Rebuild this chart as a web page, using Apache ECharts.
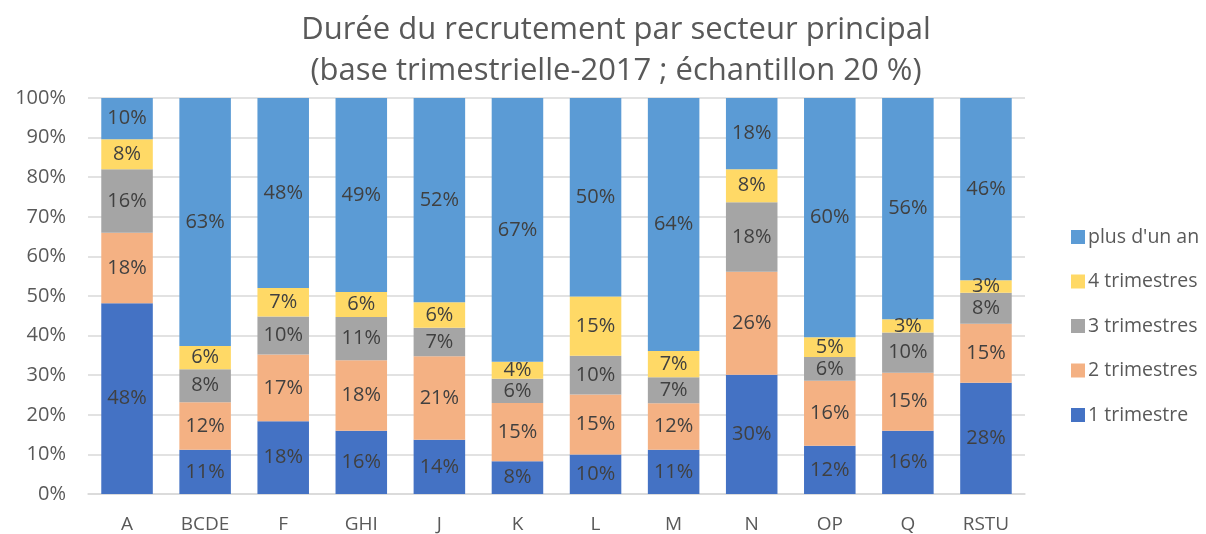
<!DOCTYPE html>
<html>
<head>
<meta charset="utf-8">
<script src="https://cdn.jsdelivr.net/npm/echarts@6/dist/echarts.min.js"></script>
<style>
  html, body { margin: 0; padding: 0; background: #fff; }
  #chart { width: 1206px; height: 534px; }
</style>
</head>
<body>
<div id="chart"></div>
<script>
const categories = ['A', 'BCDE', 'F', 'GHI', 'J', 'K', 'L', 'M', 'N', 'OP', 'Q', 'RSTU']

// shares in % per sector
const oneQuarter   = [48.2, 11.2, 18.4, 16.0, 13.7, 8.3, 10.0, 11.2, 30.1, 12.2, 16.0, 28.1]
const twoQuarters  = [17.8, 12.0, 16.8, 17.8, 21.1, 14.7, 15.1, 11.7, 26.0, 16.4, 14.6, 14.9]
const threeQuarters = [16.0, 8.3, 9.6, 10.9, 7.2, 6.1, 9.8, 6.6, 17.6, 6.0, 10.2, 7.8]
const fourQuarters = [7.6, 5.9, 7.2, 6.3, 6.4, 4.3, 15.0, 6.6, 8.3, 5.0, 3.3, 3.2]
const moreThanYear = [10.4, 62.6, 48.0, 49.0, 51.6, 66.6, 50.1, 63.9, 18.0, 60.4, 55.9, 46.0]

const yTicks = [0, 10, 20, 30, 40, 50, 60, 70, 80, 90, 100]

const FONT = '"Open Sans", "Noto Sans", sans-serif'
const TEXT = '#595959'

const seriesDefs = [
  { name: '1 trimestre', data: oneQuarter, color: '#4472C4' },
  { name: '2 trimestres', data: twoQuarters, color: '#F4B183' },
  { name: '3 trimestres', data: threeQuarters, color: '#A5A5A5' },
  { name: '4 trimestres', data: fourQuarters, color: '#FFD966' },
  { name: "plus d'un an", data: moreThanYear, color: '#5B9BD5' },
]

const chart = echarts.init(document.getElementById('chart'))

chart.setOption({
  animation: false,
  textStyle: { fontFamily: FONT },
  title: {
    text: 'Durée du recrutement par secteur principal\n(base trimestrielle-2017 ; échantillon 20 %)',
    left: 611,
    textAlign: 'center',
    top: 5,
    textStyle: {
      fontFamily: FONT,
      fontSize: 31,
      fontWeight: 'normal',
      color: TEXT,
      lineHeight: 41,
    },
  },
  legend: {
    orient: 'vertical',
    left: 1066,
    top: 222,
    itemWidth: 14,
    itemHeight: 14,
    itemGap: 24.5,
    icon: 'rect',
    data: seriesDefs.map(s => s.name).reverse(),
    textStyle: { fontFamily: FONT, fontSize: 19.5, color: TEXT, padding: [0, 0, 0, -2] },
  },
  grid: { left: 88, right: 181, top: 98, bottom: 39 },
  xAxis: {
    type: 'category',
    data: categories,
    axisTick: { show: false },
    axisLine: { lineStyle: { color: '#d9d9d9', width: 1.5 } },
    axisLabel: { color: TEXT, fontSize: 19, fontFamily: FONT, margin: 21 },
  },
  yAxis: {
    type: 'value',
    min: yTicks[0],
    max: yTicks[yTicks.length - 1],
    interval: 10,
    axisLabel: { color: TEXT, fontSize: 20, fontFamily: FONT, formatter: '{value}%', margin: 22 },
    splitLine: { lineStyle: { color: '#d9d9d9', width: 1.5 } },
    axisLine: { show: false },
    axisTick: { show: false },
  },
  series: seriesDefs.map(s => ({
    name: s.name,
    type: 'bar',
    stack: 'total',
    data: s.data,
    barWidth: '66%',
    itemStyle: { color: s.color },
    label: {
      show: true,
      position: 'inside',
      color: '#404040',
      fontSize: 20,
      fontFamily: FONT,
      formatter: p => Math.round(p.value) + '%',
    },
  })),
})
</script>
</body>
</html>
